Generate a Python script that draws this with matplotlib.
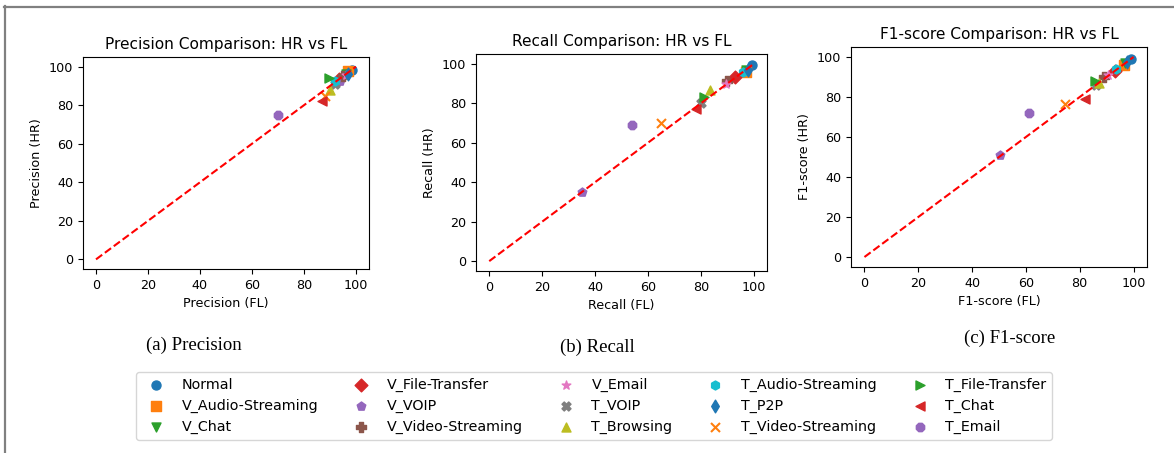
import matplotlib
matplotlib.use("Agg")
import matplotlib.pyplot as plt
from matplotlib.lines import Line2D

# class names and markers (colors follow the default cycle)
classes = ["Normal", "V_Audio-Streaming", "V_Chat", "V_File-Transfer", "V_VOIP",
           "V_Video-Streaming", "V_Email", "T_VOIP", "T_Browsing", "T_Audio-Streaming",
           "T_P2P", "T_Video-Streaming", "T_File-Transfer", "T_Chat", "T_Email"]
markers = ["o", "s", "v", "D", "p", "P", "*", "X", "^", "h", "d", "x", ">", "<", "8"]

# Precision (FL, HR)
prec_fl = [98.5, 97.0, 96.0, 93.5, 94.0, 95.0, 96.0, 92.0, 90.0, 92.0, 97.0, 88.0, 89.5, 87.0, 70.0]
prec_hr = [98.5, 97.5, 96.0, 93.5, 92.5, 95.0, 95.5, 91.0, 88.0, 92.5, 96.0, 85.0, 94.0, 82.0, 75.0]

# Recall (FL, HR)
rec_fl = [99.5, 97.0, 97.0, 93.0, 35.0, 90.0, 89.5, 80.0, 83.5, 96.0, 98.0, 65.0, 81.0, 78.0, 54.0]
rec_hr = [99.5, 96.0, 97.0, 93.5, 35.0, 91.5, 90.0, 80.0, 87.0, 96.0, 97.0, 70.0, 83.0, 77.0, 69.0]

# F1-score (FL, HR)
f1_fl = [99.0, 96.5, 97.0, 93.0, 50.5, 89.0, 90.5, 86.0, 87.0, 93.5, 97.5, 74.5, 85.5, 82.0, 61.0]
f1_hr = [99.0, 96.0, 97.0, 93.0, 51.0, 90.0, 91.0, 86.0, 87.0, 94.0, 97.5, 76.5, 88.0, 79.0, 72.0]

panels = [
    ("Precision", prec_fl, prec_hr, "(a) Precision"),
    ("Recall", rec_fl, rec_hr, "(b) Recall"),
    ("F1-score", f1_fl, f1_hr, "(c) F1-score"),
]

W, H = 1174, 453
fig = plt.figure(figsize=(W / 100, H / 100), dpi=100)

# axes boxes in pixels: left, top, right, bottom
boxes = [(83, 57, 369, 269), (476, 54, 767, 271), (851, 47, 1147, 267)]
caption_pos = [(194, 345), (597, 347), (1010, 338)]

handles = []
for (name, fl, hr, cap), (l, t, r, b), (cx, cy) in zip(panels, boxes, caption_pos):
    ax = fig.add_axes([l / W, 1 - b / H, (r - l) / W, (b - t) / H])
    hs = []
    for i, cls in enumerate(classes):
        h = ax.scatter(fl[i], hr[i], marker=markers[i], color=f"C{i % 10}", s=42, label=cls)
        hs.append(h)
    ax.plot([0, 100], [0, 100], "r--")
    ax.set_title(f"{name} Comparison: HR vs FL", fontsize=11.1)
    ax.set_xlabel(f"{name} (FL)", fontsize=9.2)
    ax.set_ylabel(f"{name} (HR)", fontsize=9.2)
    ax.set_xticks([0, 20, 40, 60, 80, 100])
    ax.set_yticks([0, 20, 40, 60, 80, 100])
    ax.tick_params(labelsize=9.2)
    if not handles:
        handles = hs
    fig.text(cx / W, 1 - cy / H, cap, ha="center", va="center",
             family="Liberation Serif", fontsize=13.5)

fig.legend(handles=handles, labels=classes, ncol=5, loc="center",
           bbox_to_anchor=(594 / W, 1 - 406 / H), fontsize=10.3)

# page frame lines (top and left)
fig.add_artist(Line2D([4 / W, 1], [1 - 6.5 / H, 1 - 6.5 / H], color="#808080", lw=1.6,
                      transform=fig.transFigure))
fig.add_artist(Line2D([4.5 / W, 4.5 / W], [0, 1 - 6 / H], color="#808080", lw=1.6,
                      transform=fig.transFigure))

fig.savefig("out.png", dpi=100)
